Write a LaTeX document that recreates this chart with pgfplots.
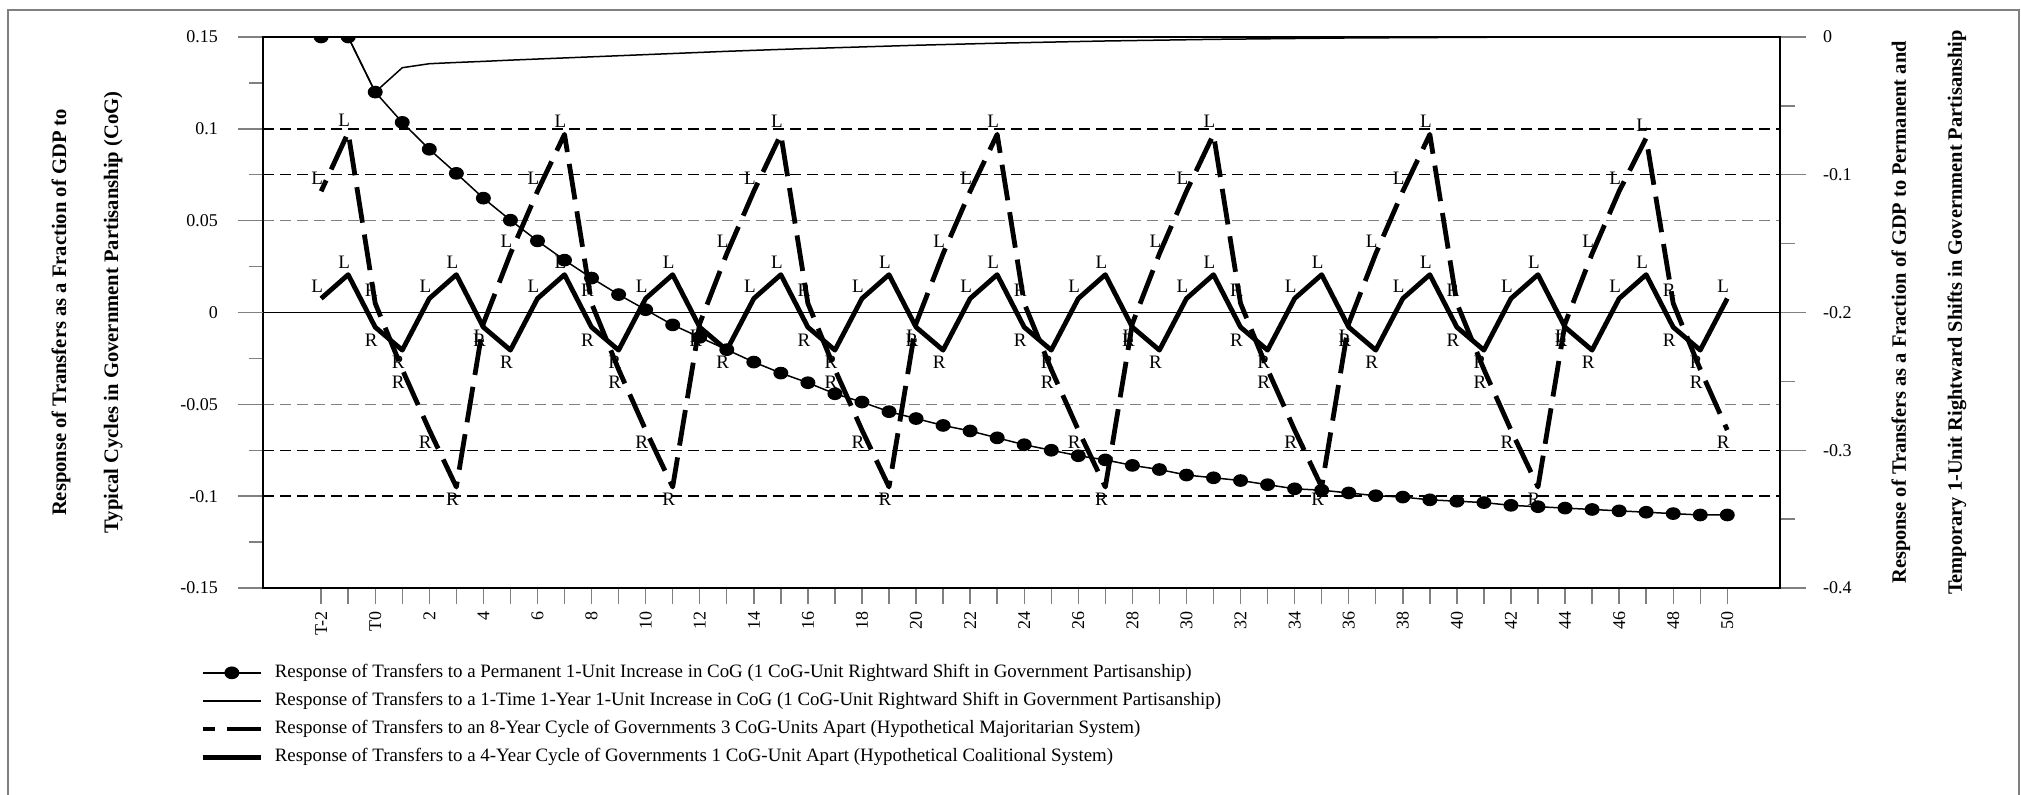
\documentclass[border=0pt]{standalone}
\usepackage{fontspec}
\setmainfont{Liberation Serif}
\usepackage{pgfplots}
\usepackage{pgfplotstable}
\pgfplotsset{compat=1.18}

% responses to permanent and 1-time shifts (right axis)
\pgfplotstableread{
x perm temp
0 0 0
1 0 0
2 -0.040 -0.040
3 -0.062 -0.0223
4 -0.0815 -0.0194
5 -0.099 -0.0185
6 -0.117 -0.0177
7 -0.133 -0.0168
8 -0.148 -0.0160
9 -0.162 -0.0152
10 -0.175 -0.0144
11 -0.187 -0.0136
12 -0.198 -0.0128
13 -0.209 -0.0120
14 -0.218 -0.0112
15 -0.227 -0.0104
16 -0.236 -0.0097
17 -0.244 -0.0090
18 -0.251 -0.0084
19 -0.259 -0.0078
20 -0.265 -0.0072
21 -0.272 -0.0066
22 -0.277 -0.0060
23 -0.282 -0.0055
24 -0.286 -0.0050
25 -0.291 -0.0045
26 -0.296 -0.0041
27 -0.300 -0.0037
28 -0.304 -0.0033
29 -0.307 -0.0029
30 -0.311 -0.0026
31 -0.314 -0.0023
32 -0.318 -0.0020
33 -0.320 -0.0017
34 -0.322 -0.0015
35 -0.325 -0.0013
36 -0.328 -0.0011
37 -0.329 -0.0009
38 -0.331 -0.0007
39 -0.333 -0.0006
40 -0.334 -0.0005
41 -0.336 -0.0004
42 -0.337 -0.0003
43 -0.338 -0.0002
44 -0.340 -0.0001
45 -0.341 0
46 -0.342 0
47 -0.343 0
48 -0.344 0
49 -0.345 0
50 -0.346 0
51 -0.347 0
52 -0.347 0
}\shocks

% 8-year cycle, 3 CoG units apart (left axis)
\pgfplotstableread{
x y lab
0 0.066 L
1 0.098 L
2 0.005 R
3 -0.031 R
4 -0.064 R
5 -0.095 R
6 -0.006 L
7 0.032 L
8 0.066 L
9 0.097 L
10 0.005 R
11 -0.031 R
12 -0.064 R
13 -0.095 R
14 -0.006 L
15 0.032 L
16 0.066 L
17 0.097 L
18 0.005 R
19 -0.031 R
20 -0.064 R
21 -0.095 R
22 -0.006 L
23 0.032 L
24 0.066 L
25 0.097 L
26 0.005 R
27 -0.031 R
28 -0.064 R
29 -0.095 R
30 -0.006 L
31 0.032 L
32 0.066 L
33 0.097 L
34 0.005 R
35 -0.031 R
36 -0.064 R
37 -0.095 R
38 -0.006 L
39 0.032 L
40 0.066 L
41 0.097 L
42 0.005 R
43 -0.031 R
44 -0.064 R
45 -0.095 R
46 -0.006 L
47 0.032 L
48 0.066 L
49 0.095 L
50 0.005 R
51 -0.031 R
52 -0.064 R
}\cycEight

% 4-year cycle, 1 CoG unit apart (left axis)
\pgfplotstableread{
x y lab
0 0.0076 L
1 0.0206 L
2 -0.0080 R
3 -0.0205 R
4 0.0076 L
5 0.0206 L
6 -0.0080 R
7 -0.0205 R
8 0.0076 L
9 0.0206 L
10 -0.0080 R
11 -0.0205 R
12 0.0076 L
13 0.0206 L
14 -0.0080 R
15 -0.0205 R
16 0.0076 L
17 0.0206 L
18 -0.0080 R
19 -0.0205 R
20 0.0076 L
21 0.0206 L
22 -0.0080 R
23 -0.0205 R
24 0.0076 L
25 0.0206 L
26 -0.0080 R
27 -0.0205 R
28 0.0076 L
29 0.0206 L
30 -0.0080 R
31 -0.0205 R
32 0.0076 L
33 0.0206 L
34 -0.0080 R
35 -0.0205 R
36 0.0076 L
37 0.0206 L
38 -0.0080 R
39 -0.0205 R
40 0.0076 L
41 0.0206 L
42 -0.0080 R
43 -0.0205 R
44 0.0076 L
45 0.0206 L
46 -0.0080 R
47 -0.0205 R
48 0.0076 L
49 0.0206 L
50 -0.0080 R
51 -0.0205 R
52 0.0076 L
}\cycFour

\tikzset{gridline/.style={dash pattern=on 5.5pt off 3pt, line width=0.7pt}}
\pgfplotsset{
  panel/.style={scale only axis, width=758.5pt, height=275.5pt,
    at={(131.5pt,103.5pt)}, anchor=south west,
    xmin=-2.15, xmax=53.95, tick align=outside,
    every tick label/.append style={font=\fontsize{9}{10}\selectfont}},
  % L/R labels: above a point with a positive value, below one with a negative value
  lrlabels/.style={forget plot, draw=none, nodes near coords,
    point meta=explicit symbolic,
    visualization depends on={y \as \myy},
    every node near coord/.append style={xshift=-2pt,
      inner sep=3pt, font=\fontsize{9.5}{10}\selectfont},
    every node near coord/.append code={%
      \ifdim\myy pt<0pt \pgfkeysalso{anchor=north}\else\pgfkeysalso{anchor=south}\fi}},
}

\begin{document}
\begin{tikzpicture}
\useasboundingbox (0,0) rectangle (1010.5pt,397.5pt);
\draw[gray, line width=0.8pt] (4pt,0pt) -- (4pt,392.5pt) -- (1009.5pt,392.5pt) -- (1009.5pt,0pt);

% grid lines and the category axis
\begin{axis}[panel, ymin=-0.15, ymax=0.15,
  axis line style={draw=none},
  ytick={-0.15,-0.1,-0.075,0.075,0.1,0.15}, yticklabels={}, ytick style={draw=none},
  ymajorgrids, major grid style={gridline, black},
  extra y ticks={-0.05,0.05}, extra y tick labels={},
  extra y tick style={grid=major, major grid style={gridline, gray}},
  xtick={0,...,52}, xtick pos=left, major tick length=8pt,
  xtick style={line width=0.7pt},
  xticklabels={T-2,,T0,,2,,4,,6,,8,,10,,12,,14,,16,,18,,20,,22,,24,,26,,28,,30,,32,,34,,36,,38,,40,,42,,44,,46,,48,,50},
  xticklabel style={rotate=90, anchor=east}]
\end{axis}

% right axis: permanent and temporary shifts
\begin{axis}[panel, ymin=-0.4, ymax=0,
  axis x line=none, axis y line*=right,
  axis line style={line width=1.3pt},
  ytick={-0.4,-0.3,-0.2,-0.1,0}, yticklabels={-0.4,-0.3,-0.2,-0.1,0},
  minor ytick={-0.35,-0.25,-0.15,-0.05},
  major tick length=13pt, minor tick length=7.5pt,
  tick style={line width=0.7pt},
  yticklabel style={xshift=5pt},
  clip marker paths=true,
  ylabel={Response of Transfers as a Fraction of GDP to Permanent and\\[17pt]Temporary 1-Unit Rightward Shifts in Government Partisanship},
  every axis y label/.style={at={(axis description cs:1.0982,0.5)}, rotate=90,
    anchor=center, align=center, font=\bfseries\fontsize{10.2}{11}\selectfont}]
\addplot[line width=0.75pt, mark=*, mark size=2.8pt, mark options={xscale=1.2}]
  table[x=x, y=perm] {\shocks};
\addplot[line width=0.75pt] table[x=x, y=temp] {\shocks};
\end{axis}

% left axis: cycles of governments
\begin{axis}[panel, ymin=-0.15, ymax=0.15,
  axis line style={line width=0.8pt},
  xtick=\empty, ytick pos=left,
  ytick={-0.15,-0.1,-0.05,0,0.05,0.1,0.15},
  yticklabels={-0.15,-0.1,-0.05,0,0.05,0.1,0.15},
  minor ytick={-0.125,-0.075,-0.025,0.025,0.075,0.125},
  major tick length=12.5pt, minor tick length=7pt,
  tick style={line width=0.7pt},
  yticklabel style={xshift=-6.5pt},
  extra y ticks={0}, extra y tick labels={},
  extra y tick style={grid=major, major grid style={solid, black, line width=0.75pt}},
  ylabel={Response of Transfers as a Fraction of GDP to\\[15pt]Typical Cycles in Government Partisanship (CoG)},
  every axis y label/.style={at={(axis description cs:-0.116,0.5)}, rotate=90,
    anchor=center, align=center, font=\bfseries\fontsize{10.3}{11}\selectfont},
  legend style={at={(axis description cs:-0.0415,-0.136)}, anchor=north west,
    draw=none, fill=none, inner sep=0pt, row sep=4.55pt,
    font=\fontsize{9.45}{10}\selectfont,
    nodes={inner sep=0pt, text height=7pt, text depth=2.5pt},
    /tikz/column 1/.style={column sep=5.8pt}},
  legend cell align=left,
  legend image code/.code={\draw[mark repeat=2, mark phase=2, #1]
    plot coordinates {(0pt,0pt) (14.5pt,0pt) (29pt,0pt)};}]
\addlegendimage{line width=0.75pt, mark=*, mark size=2.8pt, mark options={xscale=1.2}}
\addlegendentry{Response of Transfers to a Permanent 1-Unit Increase in CoG (1 CoG-Unit Rightward Shift in Government Partisanship)}
\addlegendimage{line width=0.75pt}
\addlegendentry{Response of Transfers to a 1-Time 1-Year 1-Unit Increase in CoG (1 CoG-Unit Rightward Shift in Government Partisanship)}
\addplot[line width=2.4pt, line join=round, dash pattern=on 18pt off 6pt, dash phase=12pt]
  table[x=x, y=y] {\cycEight};
\addlegendentry{Response of Transfers to an 8-Year Cycle of Governments 3 CoG-Units Apart (Hypothetical Majoritarian System)}
\addplot[line width=2.4pt, line join=round] table[x=x, y=y] {\cycFour};
\addlegendentry{Response of Transfers to a 4-Year Cycle of Governments 1 CoG-Unit Apart (Hypothetical Coalitional System)}
\addplot[lrlabels] table[x=x, y=y, meta=lab] {\cycEight};
\addplot[lrlabels] table[x=x, y=y, meta=lab] {\cycFour};
\end{axis}
\end{tikzpicture}
\end{document}
